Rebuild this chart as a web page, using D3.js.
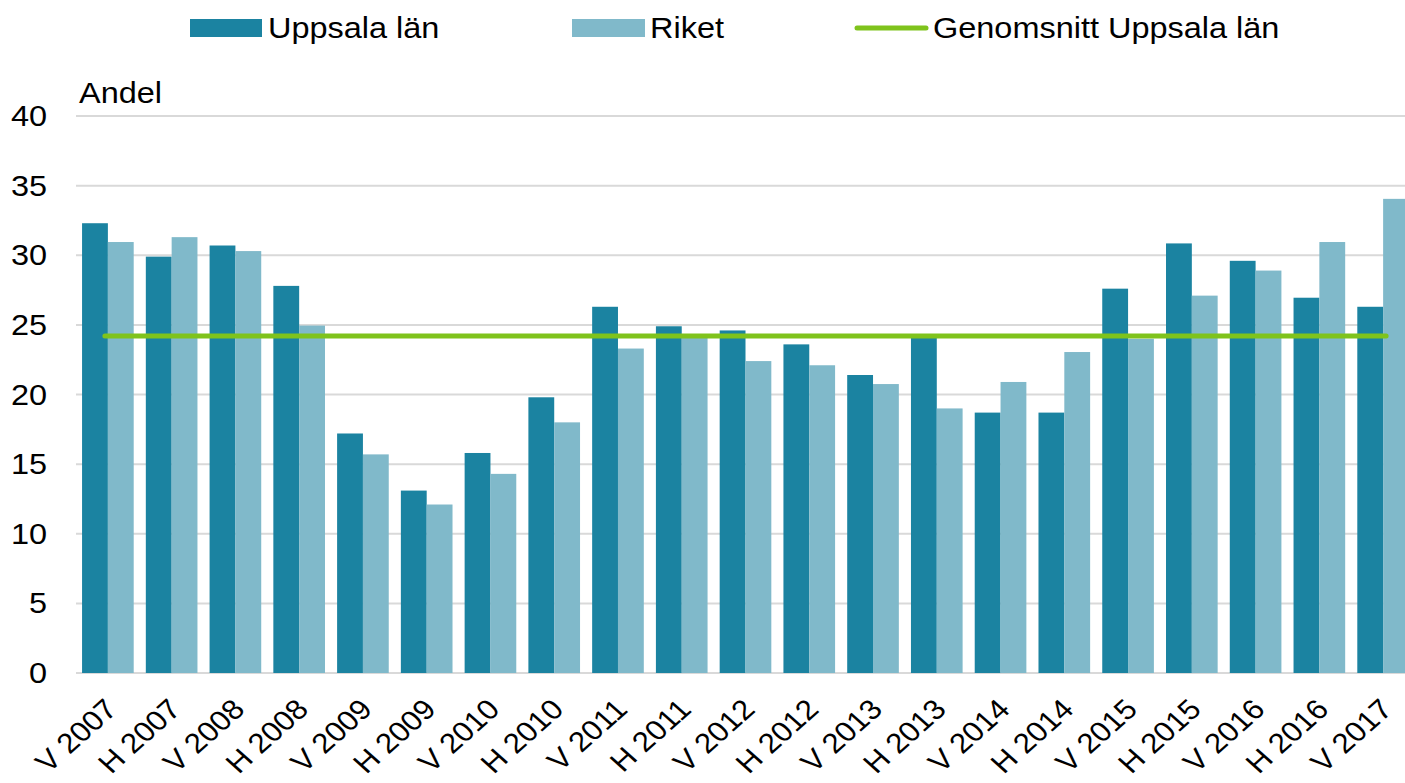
<!DOCTYPE html>
<html>
<head>
<meta charset="utf-8">
<script src="https://cdn.jsdelivr.net/npm/d3@7"></script>
<style>
  html, body { margin: 0; padding: 0; background: #fff; }
  svg { display: block; }
  text { font-family: "Liberation Sans", Arial, sans-serif; fill: #000; }
</style>
</head>
<body>
<svg id="chart" width="1405" height="783"></svg>
<script>
const categories = ["V 2007","H 2007","V 2008","H 2008","V 2009","H 2009","V 2010","H 2010","V 2011","H 2011","V 2012","H 2012","V 2013","H 2013","V 2014","H 2014","V 2015","H 2015","V 2016","H 2016","V 2017"];
const uppsala = [32.3, 29.9, 30.7, 27.8, 17.2, 13.1, 15.8, 19.8, 26.3, 24.9, 24.6, 23.6, 21.4, 24.3, 18.7, 18.7, 27.6, 30.85, 29.6, 26.95, 26.3];
const riket   = [30.95, 31.3, 30.3, 24.95, 15.7, 12.1, 14.3, 18.0, 23.3, 24.3, 22.4, 22.1, 20.75, 19.0, 20.9, 23.05, 24.0, 27.1, 28.9, 30.95, 34.05];
const average = 24.2;
const yTicks = [0, 5, 10, 15, 20, 25, 30, 35, 40];
const seriesNames = ["Uppsala län", "Riket", "Genomsnitt Uppsala län"];
const colors = { uppsala: "#1b83a1", riket: "#80b9ca", avg: "#7fc31c", grid: "#d9d9d9" };

(function () {
const svg = d3.select("#chart");
const SX = 1.12;  // horizontal text stretch seen in the reference
const FS = 29;
const FSX = 28;

const mLeft = 76, mRight = 1415, mTop = 116, mBottom = 673;
const x = d3.scaleBand().domain(categories).range([mLeft, mRight]).paddingInner(0.19).paddingOuter(0.095);
const x1 = d3.scaleBand().domain(["u","r"]).range([0, x.bandwidth()]);
const y = d3.scaleLinear().domain([0, 40]).range([mBottom, mTop]);

// gridlines
svg.append("g").selectAll("line").data(yTicks).join("line")
  .attr("x1", mLeft).attr("x2", 1405)
  .attr("y1", d => y(d)).attr("y2", d => y(d))
  .attr("stroke", colors.grid).attr("stroke-width", 2);

// y tick labels
svg.append("g").selectAll("text").data(yTicks).join("text")
  .attr("transform", d => `translate(47,${y(d) + 10}) scale(${SX},1)`)
  .attr("text-anchor", "end").attr("font-size", FS).text(d => d);

// Andel
svg.append("text").attr("transform", `translate(79,103) scale(${SX},1)`)
  .attr("font-size", FS).text("Andel");

// bars
const groups = svg.append("g").selectAll("g").data(categories).join("g")
  .attr("transform", d => `translate(${x(d)},0)`);
groups.append("rect")
  .attr("x", x1("u")).attr("width", x1.bandwidth())
  .attr("y", (d, i) => y(uppsala[i])).attr("height", (d, i) => y(0) - y(uppsala[i]))
  .attr("fill", colors.uppsala);
groups.append("rect")
  .attr("x", x1("r")).attr("width", x1.bandwidth())
  .attr("y", (d, i) => y(riket[i])).attr("height", (d, i) => y(0) - y(riket[i]))
  .attr("fill", colors.riket);

// average line
const cx = d => x(d) + x.bandwidth() / 2;
svg.append("line")
  .attr("x1", cx(categories[0]) - 3).attr("x2", cx(categories[categories.length - 1]) + 3)
  .attr("y1", y(average)).attr("y2", y(average))
  .attr("stroke", colors.avg).attr("stroke-width", 5).attr("stroke-linecap", "round");

// x labels
svg.append("g").selectAll("text").data(categories).join("text")
  .attr("transform", d => `translate(${cx(d) + 11},711) scale(${SX},1) rotate(-45)`)
  .attr("text-anchor", "end").attr("font-size", FSX).text(d => d);

// legend
const lg = svg.append("g");
lg.append("rect").attr("x", 190).attr("y", 19).attr("width", 72).attr("height", 18).attr("fill", colors.uppsala);
lg.append("text").attr("transform", `translate(268,38) scale(${SX},1)`).attr("font-size", FS).text(seriesNames[0]);
lg.append("rect").attr("x", 572).attr("y", 19).attr("width", 73).attr("height", 18).attr("fill", colors.riket);
lg.append("text").attr("transform", `translate(650,38) scale(${SX},1)`).attr("font-size", FS).text(seriesNames[1]);
lg.append("line").attr("x1", 857).attr("x2", 926).attr("y1", 28).attr("y2", 28)
  .attr("stroke", colors.avg).attr("stroke-width", 5).attr("stroke-linecap", "round");
lg.append("text").attr("transform", `translate(933,38) scale(${SX},1)`).attr("font-size", FS).text(seriesNames[2]);
})();
</script>
</body>
</html>
